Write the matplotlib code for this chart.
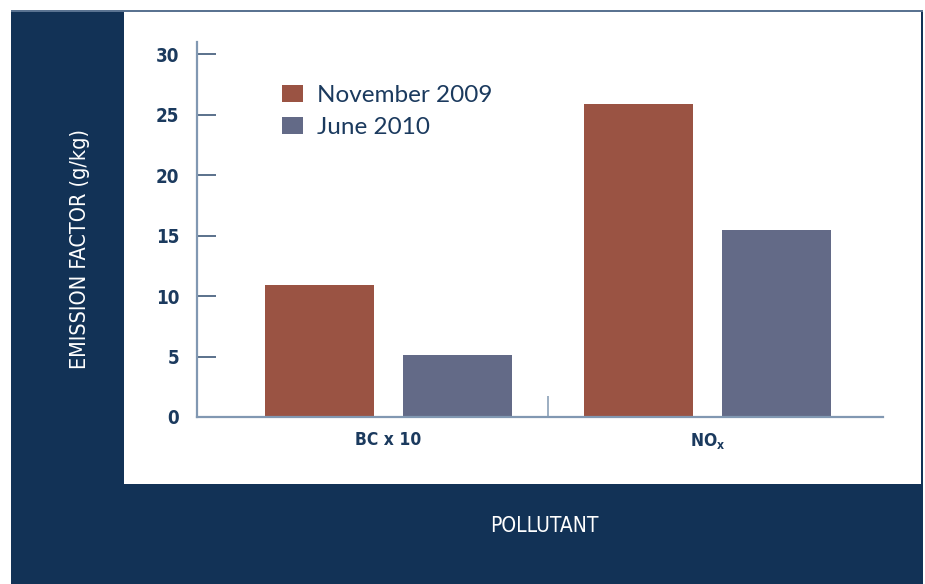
import matplotlib
matplotlib.use("Agg")
import matplotlib.pyplot as plt
import numpy as np
from matplotlib.patches import Rectangle

# ── Data ───────────────────────────────────────────────────────────────────────
CATEGORIES = ["BC x 10", r"NO$_\mathregular{x}$"]
SERIES     = ["November 2009", "June 2010"]
NOV_2009   = [10.9, 25.9]
JUNE_2010  = [5.1, 15.5]
Y_TICKS    = [0, 5, 10, 15, 20, 25, 30]

# ── Style ──────────────────────────────────────────────────────────────────────
NAVY      = "#123256"
TEXT      = "#1b3a5e"
SPINE     = "#8198b2"
TICK      = "#2e4a6c"
COLORS    = ["#9a5343", "#636a87"]
W, H      = 925, 584

fig = plt.figure(figsize=(W / 100, H / 100), dpi=100, facecolor="white")


def px_rect(x0, y0, x1, y1, color, z=0):
    """Rectangle in pixel coords (origin top-left)."""
    fig.add_artist(Rectangle((x0 / W, 1 - y1 / H), (x1 - x0) / W, (y1 - y0) / H,
                             transform=fig.transFigure, facecolor=color,
                             edgecolor="none", zorder=z))


# frame: dark border, white panel, thin top line
px_rect(11, 10, 923, 584, NAVY, z=-3)
px_rect(124, 12, 921, 484, "white", z=-2)
px_rect(11, 10, 923, 12, "#5a7391", z=-1)

# ── Axes ───────────────────────────────────────────────────────────────────────
ax = fig.add_axes([197 / W, 1 - 417 / H, 686 / W, 375 / H])
ax.set_facecolor("none")

x = np.arange(len(CATEGORIES))
bw, off = 0.341, 0.216
ax.bar(x - off, NOV_2009, bw, color=COLORS[0], label=SERIES[0], zorder=2)
ax.bar(x + off, JUNE_2010, bw, color=COLORS[1], label=SERIES[1], zorder=2)

ax.set_xlim(-0.599, 1.548)
ax.set_ylim(0, 31)

for s in ["top", "right"]:
    ax.spines[s].set_visible(False)
for s in ["left", "bottom"]:
    ax.spines[s].set_color(SPINE)
    ax.spines[s].set_linewidth(1.6)

ax.set_yticks(Y_TICKS)
ax.tick_params(axis="y", direction="in", length=14, width=1.1, color=TICK,
               pad=13, labelsize=13.5, labelcolor=TEXT)
ax.set_xticks(x)
ax.set_xticklabels(CATEGORIES)
ax.set_xticks([0.5], minor=True)
ax.tick_params(axis="x", which="major", length=0, pad=10, labelsize=12.5,
               labelcolor=TEXT)
ax.tick_params(axis="x", which="minor", direction="in", length=15, width=1.1,
               color=SPINE)
for lab in ax.get_xticklabels() + ax.get_yticklabels():
    lab.set_fontstretch("condensed")
    lab.set_fontweight("semibold")

leg = ax.legend(loc="upper left", bbox_to_anchor=(0.124, 0.885), frameon=False,
                prop={"family": "Lato", "size": 17.5}, handlelength=0.87,
                handleheight=0.7, handletextpad=0.55, labelspacing=0.45,
                borderpad=0, borderaxespad=0, labelcolor=TEXT)

# ── Frame labels ───────────────────────────────────────────────────────────────
fig.text(80 / W, 1 - 249 / H, "EMISSION FACTOR (g/kg)", rotation=90,
         ha="center", va="center", color="white", fontsize=15.5,
         fontstretch="condensed")
fig.text(544 / W, 1 - 526 / H, "POLLUTANT", ha="center", va="center",
         color="white", fontsize=15, fontstretch="condensed")

fig.savefig("out.png", dpi=100, facecolor="white")
